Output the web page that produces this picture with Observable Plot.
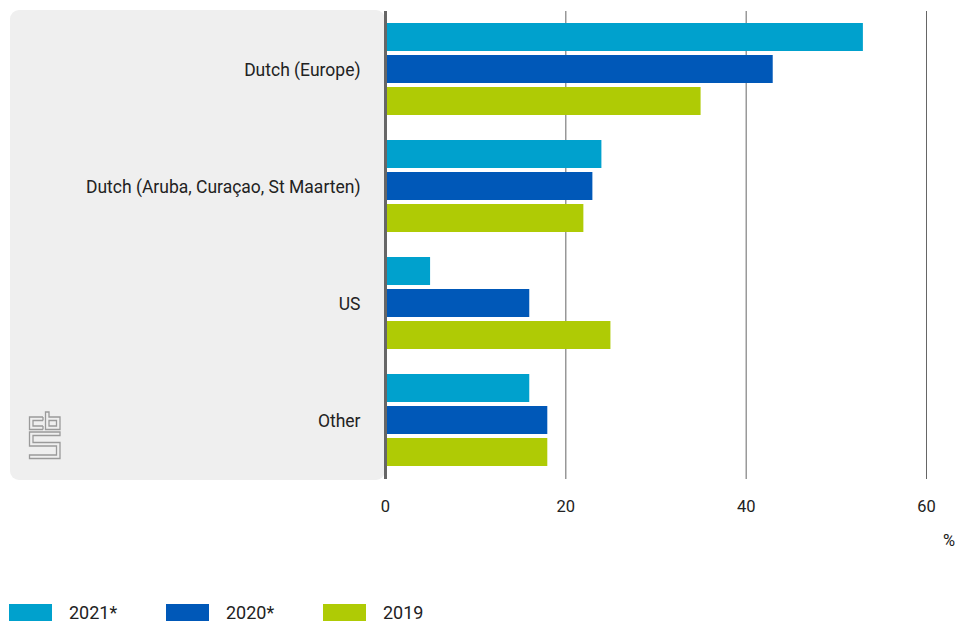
<!DOCTYPE html>
<html>
<head>
<meta charset="utf-8">
<script src="https://cdn.jsdelivr.net/npm/d3@7"></script>
<script src="https://cdn.jsdelivr.net/npm/@observablehq/plot@0.6"></script>
<style>
  body { margin: 0; background: #fff; font-family: Roboto, "Noto Sans", sans-serif; color: #222; }
  #wrap { position: relative; width: 967px; height: 625px; }
  #panel { position: absolute; left: 10px; top: 10px; width: 375px; height: 470px; background: #efefef; border-radius: 9px; }
  #chart { position: absolute; left: 0; top: 0; }
  #chart [aria-label^="fy-axis"] text { font-size: 17.5px; }
  #unit { position: absolute; left: 943px; top: 531px; font-size: 16.5px; color: #222; }
  #logo { position: absolute; left: 28px; top: 411px; }
  #legend { position: absolute; left: 9px; top: 603px; display: flex; font-size: 18px; line-height: 19px; }
  .item { display: flex; align-items: center; width: 157px; }
  .sw { width: 43px; height: 17px; margin-right: 17px; }
</style>
</head>
<body>
<div id="wrap">
  <div id="panel"></div>
  <svg id="logo" width="34" height="50" viewBox="0 0 34 50" fill="none" stroke="#9a9a9a" stroke-width="1.3">
    <path d="M15 6 H1.5 V18.5 H15 M15 9.5 H5 V15 H15 M15 6 V9.5 M15 15 V18.5"/>
    <path d="M17.5 1 V18.5 H32 V6 H21 V1 Z M21 9.5 H28.5 V15 H21 Z"/>
    <path d="M32 21 H1.5 V35 H28.5 V44 H1.5 V47.5 H32 V31.5 H5 V24.5 H32 Z"/>
  </svg>
  <div id="chart"></div>
  <div id="unit">%</div>
  <div id="legend"></div>
</div>
<script>
const categories = ["Dutch (Europe)", "Dutch (Aruba, Curaçao, St Maarten)", "US", "Other"];
const series = ["2021*", "2020*", "2019"];
const values2021 = [53, 24, 5, 16];
const values2020 = [43, 23, 16, 18];
const values2019 = [35, 22, 25, 18];
const colors = ["#00a1cd", "#0058b8", "#afcb05"];
const xTicks = [0, 20, 40, 60];

const seriesValues = [values2021, values2020, values2019];
const data = [];
categories.forEach((c, i) => {
  series.forEach((s, j) => data.push({category: c, series: s, value: seriesValues[j][i]}));
});

const chart = Plot.plot({
  width: 967,
  height: 530,
  marginTop: 10,
  marginBottom: 50,
  marginLeft: 385,
  marginRight: 41,
  style: {background: "transparent", fontFamily: "Roboto, 'Noto Sans', sans-serif", fontSize: "16.5px", color: "#222"},
  x: {domain: [0, 60], ticks: xTicks, label: null, tickSize: 0, tickPadding: 21},
  y: {domain: series, axis: null, paddingInner: 0.12, paddingOuter: 0.36},
  fy: {domain: categories, axis: "left", label: null, tickSize: 0, tickPadding: 25, paddingInner: 0, paddingOuter: 0, padding: 0},
  color: {domain: series, range: colors},
  marks: [
    Plot.ruleX(xTicks.slice(1), {stroke: "#666", strokeWidth: 1}),
    Plot.barX(data, {x: "value", y: "series", fy: "category", fill: "series"}),
    Plot.ruleX([0], {stroke: "#666", strokeWidth: 3})
  ]
});
document.getElementById("chart").appendChild(chart);

const legend = document.getElementById("legend");
series.forEach((s, j) => {
  const item = document.createElement("div");
  item.className = "item";
  const sw = document.createElement("div");
  sw.className = "sw";
  sw.style.background = colors[j];
  const t = document.createElement("span");
  t.textContent = s;
  item.appendChild(sw);
  item.appendChild(t);
  legend.appendChild(item);
});
</script>
</body>
</html>
